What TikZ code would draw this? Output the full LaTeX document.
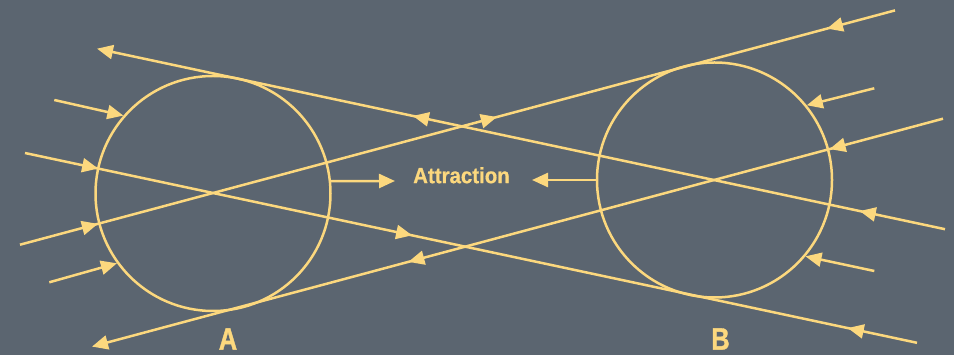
\documentclass[tikz,border=0pt]{standalone}
\usepackage{fontspec}
\setmainfont{Liberation Sans}
\newfontfamily\pullfont[FakeStretch=0.93, FakeBold=0.6]{Liberation Sans Bold}
\newfontfamily\bodyfont[FakeStretch=0.82, FakeBold=1.2]{Liberation Sans Bold}
\usepackage{tikz}
\usetikzlibrary{arrows.meta}
\usetikzlibrary{decorations.markings}
\usetikzlibrary{positioning}
\definecolor{slate}{HTML}{5B6570}
\definecolor{sand}{HTML}{FCD87E}
\tikzset{>={Triangle[length=16pt,width=14pt]}}
\tikzset{ray/.style={line width=2.5pt, draw=sand}}
\tikzset{body/.style={circle, draw=sand, line width=2.5pt, minimum size=235pt, inner sep=0pt}}
\tikzset{fwd/.style={postaction={decorate, decoration={markings, mark=at position #1 with {\arrow{>}}}}}}
\tikzset{bwd/.style={postaction={decorate, decoration={markings, mark=at position #1 with {\arrow{<}}}}}}
\tikzset{tag/.style={text=sand, inner sep=0pt, font=\bodyfont\fontsize{31pt}{31pt}\selectfont}}

\begin{document}
\begin{tikzpicture}[x=1pt, y=-1pt]
        \path[use as bounding box, fill=slate] (0,0) rectangle (954,355);

        % Bodies
        \node[body] (A) at (213,193.5) {};
        \node[body] (B) at (714.5,180) {};
        \node[tag] (labA) at (228,339) {A};
        \node[tag] (labB) at (720.5,339) {B};

        % Rays through A, touching B
        \coordinate (l1w) at (25,153);
        \coordinate (l1e) at (917,342.8);
        \coordinate (l2w) at (20,244.7);
        \coordinate (l2e) at (895,10.4);
        \draw[ray, fwd=0.082, fwd=0.434, bwd=0.940] (l1w) -- (l1e);
        \draw[ray, fwd=0.089, fwd=0.545, bwd=0.940] (l2w) -- (l2e);

        % Rays through B, touching A
        \coordinate (l3w) at (97,48.7);
        \coordinate (l3e) at (945,229.2);
        \coordinate (l4w) at (92,346.6);
        \coordinate (l4e) at (943,118.7);
        \draw[ray, <-, bwd=0.391, bwd=0.918] (l3w) -- (l3e);
        \draw[ray, <-, bwd=0.390, bwd=0.885] (l4w) -- (l4e);

        % Short rays hitting the bodies
        \coordinate (s1) at (54.3,100);
        \coordinate (s2) at (49.3,282.3);
        \coordinate (s3) at (874.3,88.3);
        \coordinate (s4) at (874.3,271);
        \draw[ray, ->] (s1) -- (A.139);
        \draw[ray, ->] (s2) -- (A.216);
        \draw[ray, ->] (s3) -- (B.39);
        \draw[ray, ->] (s4) -- (B.320);

        % Attraction
        \node[text=sand, font=\pullfont\fontsize{22pt}{22pt}\selectfont] (att) at (461.5,175.3) {Attraction};
        \coordinate (pullA) at (395,181);
        \coordinate (pullB) at (532,180);
        \draw[ray, ->] (A.6) -- (pullA);
        \draw[ray, ->] (B.west) -- (pullB);
    \end{tikzpicture}
\end{document}
